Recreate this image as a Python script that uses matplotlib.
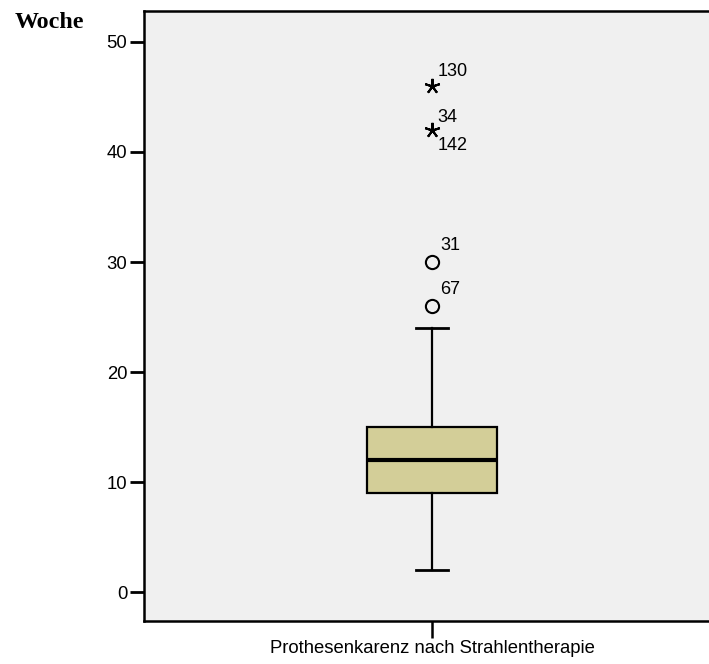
import matplotlib
matplotlib.use("Agg")
import matplotlib.pyplot as plt

# Box summary (weeks)
category = "Prothesenkarenz nach Strahlentherapie"
whisker_low = 2
q1 = 9
median = 12
q3 = 15
whisker_high = 24

# Mild outliers (circles) and extreme outliers (stars) with case numbers
mild_values = [26, 30]
mild_labels = ["67", "31"]
extreme_values = [42, 46]
extreme_labels = ["34\n\n142", "130"]

yticks = [0, 10, 20, 30, 40, 50]

plt.rcParams["font.family"] = ["Liberation Sans", "DejaVu Sans"]

fig = plt.figure(figsize=(7.09, 6.64), dpi=100)
# axes run past the right edge of the picture, as in the reference
ax = fig.add_axes([144 / 709, 43 / 664, 576 / 709, 610 / 664])
ax.set_facecolor("#f0f0f0")

stats = [{
    "med": median, "q1": q1, "q3": q3,
    "whislo": whisker_low, "whishi": whisker_high,
    "fliers": [], "label": category,
}]
ax.bxp(
    stats, positions=[1], widths=0.226, patch_artist=True,
    showfliers=False,
    boxprops=dict(facecolor="#d3ce98", edgecolor="black", linewidth=1.6),
    medianprops=dict(color="black", linewidth=3.0, solid_capstyle="butt"),
    whiskerprops=dict(color="black", linewidth=1.6),
    capprops=dict(color="black", linewidth=2.0),
    capwidths=0.056,
)

ax.plot([1] * len(mild_values), mild_values, linestyle="none", marker="o",
        markersize=9.5, markerfacecolor="none", markeredgecolor="black",
        markeredgewidth=1.5)
ax.plot([1] * len(extreme_values), extreme_values, linestyle="none",
        marker=(5, 2, 0), markersize=11, markeredgecolor="black",
        markeredgewidth=1.5)

for v, lab in zip(mild_values, mild_labels):
    ax.annotate(lab, (1, v), xytext=(6, 6), textcoords="offset points",
                fontsize=13, va="bottom", ha="left")
for v, lab in zip(extreme_values, extreme_labels):
    if "\n" in lab:
        top, _, bottom = lab.split("\n")
        ax.annotate(top, (1, v), xytext=(4, 3), textcoords="offset points",
                    fontsize=13, va="bottom", ha="left")
        ax.annotate(bottom, (1, v), xytext=(4, -5), textcoords="offset points",
                    fontsize=13, va="top", ha="left")
    else:
        ax.annotate(lab, (1, v), xytext=(4, 4), textcoords="offset points",
                    fontsize=13, va="bottom", ha="left")

ax.set_xlim(0.5, 1.5)
ax.set_ylim(-2.6, 52.8)
ax.set_yticks(yticks)
ax.set_xticks([1])
ax.set_xticklabels([category])

for side in ["left", "bottom", "top", "right"]:
    ax.spines[side].set_linewidth(1.8)
ax.tick_params(axis="y", length=10, width=2.0, labelsize=13.3, pad=2)
ax.tick_params(axis="x", length=12, width=1.8, labelsize=13.3, pad=2)

fig.text(15 / 709, 1 - 28 / 664, "Woche", fontsize=17.3, fontweight="bold",
         family=["Liberation Serif", "DejaVu Serif"], ha="left", va="baseline")

fig.savefig("out.png", dpi=100)
